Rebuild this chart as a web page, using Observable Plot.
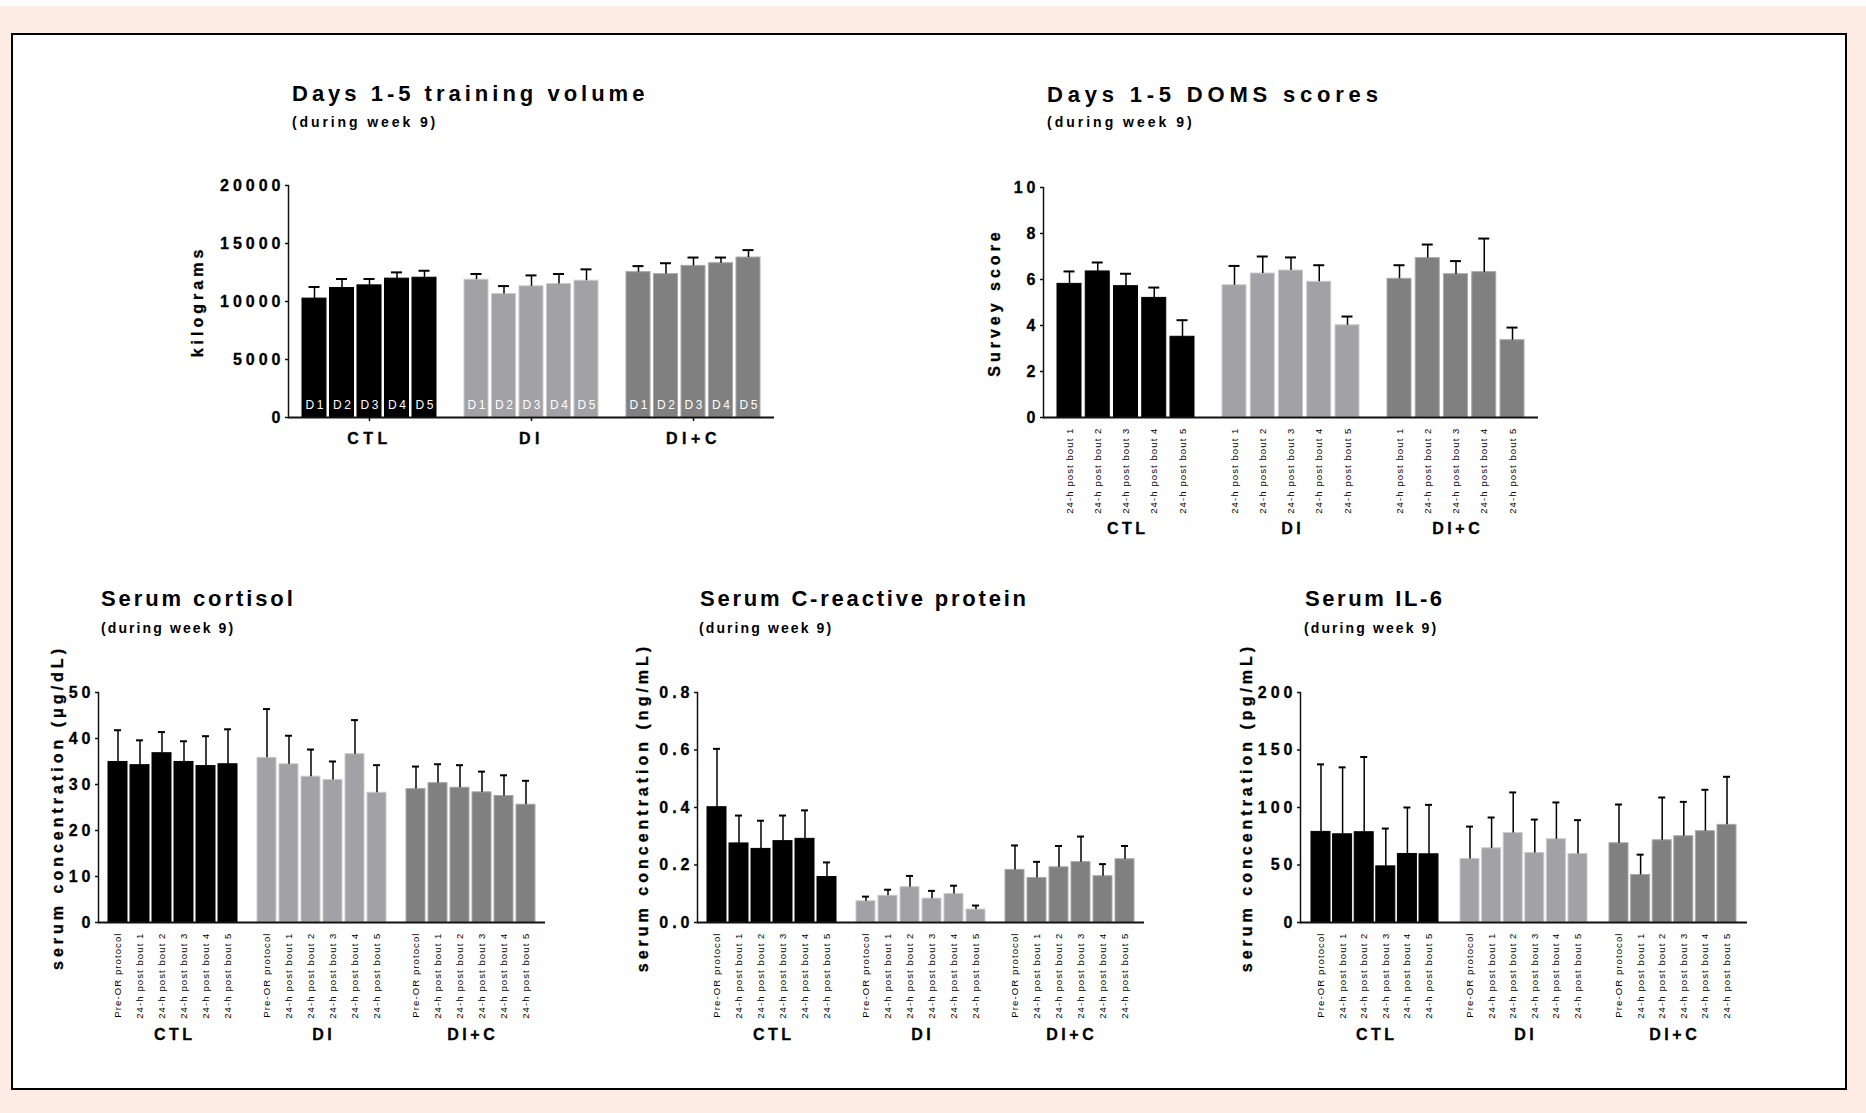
<!DOCTYPE html>
<html>
<head>
<meta charset="utf-8">
<script src="https://cdn.jsdelivr.net/npm/d3@7"></script>
<script src="https://cdn.jsdelivr.net/npm/@observablehq/plot@0.6"></script>
<style>
html, body { margin: 0; padding: 0; }
body { width: 1866px; height: 1113px; position: relative; background: #fdece3; overflow: hidden;
       font-family: "Liberation Sans", Arial, sans-serif; }
#topstrip { position: absolute; left: 0; top: 0; width: 1866px; height: 6px; background: #fff; }
#panel { position: absolute; left: 11px; top: 33px; width: 1836px; height: 1057px; border: 2px solid #000;
         box-sizing: border-box; background: #fff; }
.chart { position: absolute; }
.chart svg { overflow: visible; }
.title { position: absolute; white-space: nowrap; font-weight: bold; font-size: 22px; line-height: 22px; color: #000; }
.sub { position: absolute; white-space: nowrap; font-weight: bold; font-size: 14px; line-height: 14px; color: #000; }
.chart [aria-label="y-axis tick label"] { font-size: 16px; font-weight: bold; letter-spacing: 4px;
  stroke: #000; stroke-width: 0.3px; }
.chart [aria-label="y-axis label"] { font-size: 16px; font-weight: bold; letter-spacing: 4px;
  stroke: #000; stroke-width: 0.3px; }
.chart [aria-label="x-axis tick label"] { font-size: 9.5px; font-weight: normal; letter-spacing: 1.1px; }
.chart [aria-label="fx-axis tick label"] { font-size: 16px; font-weight: bold; letter-spacing: 4.5px;
  stroke: #000; stroke-width: 0.3px; }
#c1 [aria-label="text"] { font-size: 12px; font-weight: normal; letter-spacing: 2.5px; }
#c2 [aria-label="text"], #c3 [aria-label="text"], #c4 [aria-label="text"], #c5 [aria-label="text"] {
  font-size: 16px; font-weight: bold; letter-spacing: 3.5px; stroke: #000; stroke-width: 0.3px; }
</style>
</head>
<body>
<div id="topstrip"></div>
<div id="panel"></div>
<script>
// ---------- data ----------
const groups = ["CTL", "DI", "DI+C"];
const groupFill = ["#000000", "#a2a2a6", "#808080"];
const groupEdge = ["#000000", "#cbcbcd", "#a8a8a8"];

const dayKeys = ["D1", "D2", "D3", "D4", "D5"];
const domsKeys = ["24-h post bout 1", "24-h post bout 2", "24-h post bout 3", "24-h post bout 4", "24-h post bout 5"];
const serumKeys = ["Pre-OR protocol", "24-h post bout 1", "24-h post bout 2", "24-h post bout 3", "24-h post bout 4", "24-h post bout 5"];

// Days 1-5 training volume (kg): rows = CTL, DI, DI+C
const volumeMean = [
  [10250, 11160, 11390, 11970, 12050],
  [11880, 10650, 11310, 11510, 11790],
  [12530, 12360, 13070, 13300, 13790]
];
const volumeSD = [
  [1000, 780, 550, 540, 600],
  [490, 680, 940, 860, 980],
  [520, 940, 720, 490, 640]
];

// Days 1-5 DOMS scores
const domsMean = [
  [5.81, 6.35, 5.71, 5.20, 3.51],
  [5.75, 6.26, 6.39, 5.90, 4.01],
  [6.03, 6.93, 6.23, 6.32, 3.36]
];
const domsSD = [
  [0.54, 0.39, 0.54, 0.45, 0.72],
  [0.84, 0.74, 0.57, 0.72, 0.38],
  [0.59, 0.59, 0.57, 1.46, 0.55]
];

// Serum cortisol (µg/dL)
const cortisolMean = [
  [34.9, 34.2, 36.8, 34.9, 34.0, 34.4],
  [35.8, 34.4, 31.7, 31.0, 36.6, 28.2],
  [29.0, 30.3, 29.3, 28.3, 27.5, 25.6]
];
const cortisolSD = [
  [6.9, 5.4, 4.6, 4.5, 6.5, 7.6],
  [10.6, 6.2, 5.9, 4.0, 7.4, 6.0],
  [4.9, 4.1, 4.9, 4.5, 4.5, 5.2]
];

// Serum C-reactive protein (ng/mL)
const crpMean = [
  [0.401, 0.275, 0.256, 0.283, 0.291, 0.158],
  [0.074, 0.093, 0.123, 0.083, 0.099, 0.045],
  [0.183, 0.155, 0.192, 0.210, 0.161, 0.220]
];
const crpSD = [
  [0.203, 0.097, 0.098, 0.089, 0.099, 0.051],
  [0.016, 0.021, 0.039, 0.027, 0.029, 0.014],
  [0.085, 0.056, 0.074, 0.089, 0.042, 0.046]
];

// Serum IL-6 (pg/mL)
const il6Mean = [
  [78.8, 76.7, 78.5, 48.8, 59.6, 59.3],
  [55.2, 64.5, 77.9, 60.5, 72.4, 59.6],
  [68.9, 41.3, 71.5, 75.0, 79.4, 84.9]
];
const il6SD = [
  [58.7, 58.2, 65.4, 32.9, 40.4, 43.0],
  [28.2, 26.8, 35.2, 29.0, 32.0, 29.4],
  [33.7, 17.7, 37.2, 29.9, 36.0, 41.8]
];

const volumeTicks = [0, 5000, 10000, 15000, 20000];
const domsTicks = [0, 2, 4, 6, 8, 10];
const cortisolTicks = [0, 10, 20, 30, 40, 50];
const crpTicks = [0, 0.2, 0.4, 0.6, 0.8];
const il6Ticks = [0, 50, 100, 150, 200];

// ---------- helpers ----------
function table(keys, means, sds) {
  return groups.flatMap((g, gi) => keys.map((k, i) => ({
    group: g, key: k, mean: means[gi][i], sd: sds[gi][i],
    fill: groupFill[gi], edge: groupEdge[gi]
  })));
}

function addText(cls, text, left, top, spacing) {
  const d = document.createElement("div");
  d.className = cls;
  d.textContent = text;
  d.style.left = left + "px";
  d.style.top = top + "px";
  d.style.letterSpacing = spacing + "px";
  document.body.appendChild(d);
}

function chart(cfg) {
  const rows = table(cfg.keys, cfg.means, cfg.sds);
  const marks = [
    Plot.barY(rows, {fx: "group", x: "key", y: "mean", fill: "fill", stroke: "edge", strokeWidth: 1}),
    Plot.ruleX(rows, {fx: "group", x: "key", y1: "mean", y2: d => d.mean + d.sd, stroke: "#000", strokeWidth: 1.5}),
    Plot.tickY(rows, {fx: "group", x: "key", y: d => d.mean + d.sd, stroke: "#000", strokeWidth: 2,
                      insetLeft: cfg.capInset, insetRight: cfg.capInset}),
    Plot.ruleY([0], {stroke: "#111", strokeWidth: 2}),
    Plot.frame({anchor: "left", facet: "super", stroke: "#111", strokeWidth: 1.5}),
    Plot.axisY({ticks: cfg.ticks, tickFormat: cfg.tickFormat, tickSize: 3, tickPadding: 1, stroke: "#111",
                strokeWidth: 1.5, fontWeight: "bold", label: cfg.ylabel, labelAnchor: "center",
                labelOffset: cfg.labelOffset, labelArrow: "none"})
  ];
  if (cfg.dayLabels) {
    marks.push(Plot.text(rows, {fx: "group", x: "key", y: 0, text: "key", fill: "white", dy: -12.3, dx: 1.25,
                                lineAnchor: "middle", fontSize: 12}));
    marks.push(Plot.axisFx({anchor: "bottom", tickSize: 4, tickPadding: 11, label: null, stroke: "#111",
                            strokeWidth: 1.5, fontWeight: "bold", fontSize: 16}));
  } else {
    marks.push(Plot.axisX({tickRotate: -90, tickSize: 0, tickPadding: 10, label: null}));
    marks.push(Plot.text(groups, {fx: d => d, text: d => d, frameAnchor: "bottom", lineAnchor: "middle",
                                  dy: cfg.groupDy, dx: 1.75, fontSize: 16, fontWeight: "bold"}));
  }
  const svg = Plot.plot({
    width: cfg.width, height: cfg.height,
    marginLeft: cfg.ml, marginRight: cfg.mr, marginTop: cfg.mt, marginBottom: cfg.mb,
    style: {background: "transparent", overflow: "visible", color: "#000",
            fontFamily: "'Liberation Sans', Arial, sans-serif"},
    fx: {domain: groups, padding: 0, round: false, axis: null, label: null},
    x: {domain: cfg.keys, paddingInner: cfg.pi, paddingOuter: cfg.po, round: false, axis: null},
    y: {domain: cfg.yDomain, axis: null},
    marks
  });
  const div = document.createElement("div");
  div.className = "chart";
  div.id = cfg.id;
  div.style.left = cfg.left + "px";
  div.style.top = cfg.top + "px";
  div.appendChild(svg);
  document.body.appendChild(div);
}

// ---------- charts ----------
chart({id: "c1", keys: dayKeys, means: volumeMean, sds: volumeSD, ticks: volumeTicks, yDomain: [0, 20000],
       tickFormat: d => String(d), ylabel: "kilograms", labelOffset: 97, dayLabels: true,
       left: 160, top: 160, width: 640, height: 300, ml: 128, mr: 26, mt: 25, mb: 43,
       pi: 0.127, po: 0.509, capInset: 6.5});
addText("title", "Days 1-5 training volume", 292, 83, 4.0);
addText("sub", "(during week 9)", 292, 115, 2.9);

chart({id: "c2", keys: domsKeys, means: domsMean, sds: domsSD, ticks: domsTicks, yDomain: [0, 10],
       tickFormat: d => String(d), ylabel: "Survey score", labelOffset: 55, groupDy: 111,
       left: 960, top: 160, width: 600, height: 390, ml: 83, mr: 22, mt: 27, mb: 133,
       pi: 0.1504, po: 0.4956, capInset: 6.5});
addText("title", "Days 1-5 DOMS scores", 1047, 84, 4.8);
addText("sub", "(during week 9)", 1047, 115, 3.0);

chart({id: "c3", keys: serumKeys, means: cortisolMean, sds: cortisolSD, ticks: cortisolTicks, yDomain: [0, 50],
       tickFormat: d => String(d), ylabel: "serum concentration (\u03bcg/dL)", labelOffset: 47, groupDy: 112,
       left: 30, top: 670, width: 530, height: 380, ml: 68, mr: 15, mt: 22, mb: 128,
       pi: 0.1364, po: 0.4545, capInset: 6});
addText("title", "Serum cortisol", 101, 588, 2.9);
addText("sub", "(during week 9)", 101, 621, 2.1);

chart({id: "c4", keys: serumKeys, means: crpMean, sds: crpSD, ticks: crpTicks, yDomain: [0, 0.8],
       tickFormat: d3.format(".1f"), ylabel: "serum concentration (ng/mL)", labelOffset: 61, groupDy: 112,
       left: 630, top: 670, width: 530, height: 380, ml: 67, mr: 16, mt: 22, mb: 128,
       pi: 0.1364, po: 0.4545, capInset: 6});
addText("title", "Serum C-reactive protein", 700, 588, 2.8);
addText("sub", "(during week 9)", 699, 621, 2.1);

chart({id: "c5", keys: serumKeys, means: il6Mean, sds: il6SD, ticks: il6Ticks, yDomain: [0, 200],
       tickFormat: d => String(d), ylabel: "serum concentration (pg/mL)", labelOffset: 60, groupDy: 112,
       left: 1230, top: 670, width: 533, height: 380, ml: 70, mr: 16, mt: 22, mb: 128,
       pi: 0.1204, po: 0.509, capInset: 6});
addText("title", "Serum IL-6", 1305, 588, 2.6);
addText("sub", "(during week 9)", 1304, 621, 2.1);
</script>
</body>
</html>
